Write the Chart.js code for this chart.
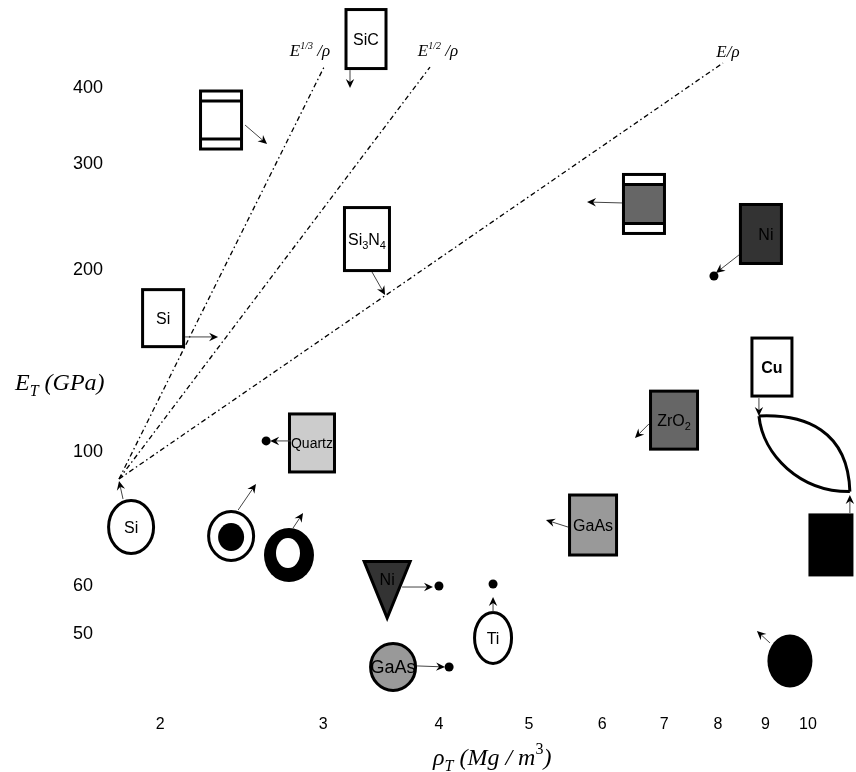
<!DOCTYPE html>
<html>
<head>
<meta charset="utf-8">
<title>E vs rho</title>
<script src="https://cdn.jsdelivr.net/npm/chart.js@4.4.0/dist/chart.umd.min.js"></script>
<style>
  html, body { margin: 0; padding: 0; background: #fff; }
  canvas { display: block; }
</style>
</head>
<body>
<canvas id="myChart" width="856" height="772"></canvas>
<script>
// tick labels
const xTicks = [2, 3, 4, 5, 6, 7, 8, 9, 10];
const yTicks = [50, 60, 100, 200, 300, 400];

// material markers: density rho (Mg/m3) and modulus E (GPa)
const matLabels = ['SiC', '', 'Si', 'Si_3N_4', '', 'Ni', 'Cu', '', 'ZrO_2', 'GaAs', 'Quartz', '', '', 'Si', 'Ni', 'Ti', 'GaAs', ''];
const matRho = [3.336, 2.327, 2.015, 3.344, 6.655, 8.899, 9.146, 10.59, 7.171, 5.864, 2.917, 2.386, 2.755, 1.861, 3.516, 4.574, 3.568, 9.564];
const matE = [482.0, 354.1, 166.5, 225.0, 257.2, 229.4, 138.2, 70.19, 112.9, 75.72, 103.5, 72.61, 67.53, 75.14, 59.12, 49.25, 44.10, 45.12];

// one arrow per marker
const arrowFromRho = [3.206, 2.470, 2.128, 3.386, 6.301, 8.426, 8.855, 11.10, 6.738, 5.510, 2.769, 2.428, 2.783, 1.824, 3.649, 4.574, 3.787, 9.101];
const arrowFromE = [428.3, 347.4, 155.0, 198.5, 258.2, 211.8, 122.8, 79.26, 111.3, 75.14, 104.3, 80.17, 74.86, 83.61, 59.79, 54.37, 44.27, 48.32];
const arrowToRho = [3.206, 2.609, 2.310, 3.498, 5.777, 7.958, 8.855, 11.10, 6.508, 5.217, 2.629, 2.538, 2.853, 1.806, 3.940, 4.574, 4.060, 8.811];
const arrowToE = [400.0, 323.2, 155.0, 181.8, 259.1, 197.8, 114.7, 84.89, 105.5, 77.17, 104.3, 88.53, 79.26, 89.55, 59.79, 57.56, 44.10, 50.58];

// end points of the arrows that carry a dot
const dotRho = [7.919, 2.603, 3.999, 4.574, 4.101];
const dotE = [195.5, 104.3, 60.02, 60.48, 44.10];

// guide lines E^(1/3)/rho, E^(1/2)/rho, E/rho
const guideStartRho = [1.806, 1.806, 1.806];
const guideStartE = [90.24, 90.24, 90.24];
const guideEndRho = [3.013, 3.911, 8.098];
const guideEndE = [436.6, 433.3, 440.0];

// lens between Cu and the black block (bezier points)
const lensUpperRho = [8.855, 9.927, 11.05, 11.10];
const lensUpperE = [114.7, 115.6, 108.7, 86.0];
const lensLowerRho = [8.855, 8.943, 9.805, 11.10];
const lensLowerE = [114.7, 98.86, 85.87, 86.0];

// drawing styles for each marker (same order as matLabels)
const matStyle = [
  {shape: 'box', w: 43, h: 62, fill: '#fff'},
  {shape: 'band', w: 44, h: 61, fill: '#fff'},
  {shape: 'box', w: 44, h: 60, fill: '#fff'},
  {shape: 'box', w: 48, h: 66, fill: '#fff'},
  {shape: 'band', w: 44, h: 62, fill: '#666'},
  {shape: 'box', w: 44, h: 62, fill: '#333', dx: 5},
  {shape: 'box', w: 43, h: 61, fill: '#fff', bold: true},
  {shape: 'box', w: 45, h: 63, fill: '#000'},
  {shape: 'box', w: 50, h: 61, fill: '#666'},
  {shape: 'box', w: 50, h: 63, fill: '#999'},
  {shape: 'box', w: 48, h: 61, fill: '#ccc', size: 14},
  {shape: 'ring', w: 48, h: 52},
  {shape: 'donut', w: 50, h: 54},
  {shape: 'ellipse', w: 48, h: 56, fill: '#fff'},
  {shape: 'tri', w: 50, h: 60, fill: '#333', dy: -11},
  {shape: 'ellipse', w: 40, h: 54, fill: '#fff'},
  {shape: 'ellipse', w: 48, h: 50, fill: '#999', size: 18},
  {shape: 'ellipse', w: 48, h: 56, fill: '#000', noStroke: true}
];

const SANS = '"Liberation Sans", Arial, sans-serif';
const SERIF = '"Liberation Serif", "Times New Roman", serif';

const drawRich = (ctx, x, y, parts, align) => {
  let w = 0;
  parts.forEach(p => { ctx.font = p[1]; w += ctx.measureText(p[0]).width; });
  let cx = align === 'center' ? x - w / 2 : x;
  ctx.textAlign = 'left';
  parts.forEach(p => {
    ctx.font = p[1];
    ctx.fillText(p[0], cx, y + (p[2] || 0));
    cx += ctx.measureText(p[0]).width;
  });
};

const labelParts = (txt, size, bold) => {
  const main = (bold ? 'bold ' : '') + size + 'px ' + SANS;
  const sub = Math.round(size * 0.68) + 'px ' + SANS;
  const parts = [];
  let buf = '';
  for (let i = 0; i < txt.length; i++) {
    if (txt[i] === '_') {
      if (buf) parts.push([buf, main, 0]);
      buf = '';
      parts.push([txt[i + 1], sub, size * 0.25]);
      i++;
    } else {
      buf += txt[i];
    }
  }
  if (buf) parts.push([buf, main, 0]);
  return parts;
};

const ellipse = (ctx, x, y, rx, ry) => {
  ctx.beginPath();
  ctx.ellipse(x, y, rx, ry, 0, 0, Math.PI * 2);
};

const arrow = (ctx, x0, y0, x1, y1) => {
  const len = Math.hypot(x1 - x0, y1 - y0);
  const ux = (x1 - x0) / len, uy = (y1 - y0) / len;
  const nx = -uy, ny = ux;
  const L = 9, W = 4.2, N = 6;
  ctx.strokeStyle = '#444';
  ctx.lineWidth = 1;
  ctx.beginPath();
  ctx.moveTo(x0, y0);
  ctx.lineTo(x1 - ux * N, y1 - uy * N);
  ctx.stroke();
  ctx.fillStyle = '#000';
  ctx.beginPath();
  ctx.moveTo(x1, y1);
  ctx.lineTo(x1 - ux * L + nx * W, y1 - uy * L + ny * W);
  ctx.lineTo(x1 - ux * N, y1 - uy * N);
  ctx.lineTo(x1 - ux * L - nx * W, y1 - uy * L - ny * W);
  ctx.closePath();
  ctx.fill();
};

const markerPlugin = {
  id: 'markers',
  afterDatasetsDraw(chart) {
    const ctx = chart.ctx;
    const sx = chart.scales.x, sy = chart.scales.y;
    ctx.save();

    // lens
    const up = lensUpperRho.map((r, i) => [sx.getPixelForValue(r), sy.getPixelForValue(lensUpperE[i])]);
    const lo = lensLowerRho.map((r, i) => [sx.getPixelForValue(r), sy.getPixelForValue(lensLowerE[i])]);
    ctx.strokeStyle = '#000';
    ctx.lineWidth = 3;
    ctx.beginPath();
    ctx.moveTo(up[0][0], up[0][1]);
    ctx.bezierCurveTo(up[1][0], up[1][1], up[2][0], up[2][1], up[3][0], up[3][1]);
    ctx.moveTo(lo[0][0], lo[0][1]);
    ctx.bezierCurveTo(lo[1][0], lo[1][1], lo[2][0], lo[2][1], lo[3][0], lo[3][1]);
    ctx.stroke();

    matRho.forEach((r, i) => {
      const st = matStyle[i];
      const x = sx.getPixelForValue(r), y = sy.getPixelForValue(matE[i]);
      const w = st.w, h = st.h;
      ctx.lineWidth = 3;
      ctx.strokeStyle = '#000';
      if (st.shape === 'box' || st.shape === 'band') {
        const l = x - w / 2 + 1.5, t = y - h / 2 + 1.5, ww = w - 3, hh = h - 3;
        ctx.fillStyle = st.shape === 'band' ? '#fff' : st.fill;
        ctx.fillRect(l, t, ww, hh);
        if (st.shape === 'band') {
          ctx.fillStyle = st.fill;
          ctx.fillRect(l, t + 10, ww, hh - 20);
          ctx.beginPath();
          ctx.moveTo(l, t + 10); ctx.lineTo(l + ww, t + 10);
          ctx.moveTo(l, t + hh - 10); ctx.lineTo(l + ww, t + hh - 10);
          ctx.stroke();
        }
        ctx.strokeRect(l, t, ww, hh);
      } else if (st.shape === 'ellipse') {
        ellipse(ctx, x, y, w / 2 - 1.5, h / 2 - 1.5);
        ctx.fillStyle = st.fill;
        ctx.fill();
        if (!st.noStroke) ctx.stroke();
      } else if (st.shape === 'ring') {
        ellipse(ctx, x, y, w / 2 - 1.5, h / 2 - 1.5);
        ctx.fillStyle = '#fff';
        ctx.fill();
        ctx.stroke();
        ellipse(ctx, x, y + 1, 13, 14);
        ctx.fillStyle = '#000';
        ctx.fill();
      } else if (st.shape === 'donut') {
        ellipse(ctx, x, y, w / 2, h / 2);
        ctx.fillStyle = '#000';
        ctx.fill();
        ellipse(ctx, x - 1, y - 2, 12, 15);
        ctx.fillStyle = '#fff';
        ctx.fill();
      } else if (st.shape === 'tri') {
        ctx.beginPath();
        ctx.moveTo(x - w / 2 + 2, y - h / 2 + 1.5);
        ctx.lineTo(x + w / 2 - 2, y - h / 2 + 1.5);
        ctx.lineTo(x, y + h / 2 - 2);
        ctx.closePath();
        ctx.fillStyle = st.fill;
        ctx.fill();
        ctx.lineJoin = 'miter';
        ctx.stroke();
      }
      if (matLabels[i]) {
        const size = st.size || 16;
        ctx.fillStyle = '#000';
        ctx.textBaseline = 'alphabetic';
        drawRich(ctx, x + (st.dx || 0), y + (st.dy || 0) + size * 0.36, labelParts(matLabels[i], size, st.bold), 'center');
      }
    });

    arrowFromRho.forEach((r, i) => {
      arrow(ctx,
        sx.getPixelForValue(r), sy.getPixelForValue(arrowFromE[i]),
        sx.getPixelForValue(arrowToRho[i]), sy.getPixelForValue(arrowToE[i]));
    });

    // guide line labels
    const it = 'italic 17px ' + SERIF, sup = 'italic 10px ' + SERIF;
    const gl = [
      [[['E', it, 0], ['1/3', sup, -7], [' /\u03c1', it, 0]], -15, -9],
      [[['E', it, 0], ['1/2', sup, -7], [' /\u03c1', it, 0]], 8, -11],
      [[['E/\u03c1', it, 0]], 5, -6]
    ];
    ctx.fillStyle = '#000';
    gl.forEach((g, i) => {
      const x = sx.getPixelForValue(guideEndRho[i]), y = sy.getPixelForValue(guideEndE[i]);
      drawRich(ctx, x + g[1], y + g[2], g[0], 'center');
    });

    // axis titles
    const big = 'italic 24px ' + SERIF, small = 'italic 16px ' + SERIF;
    drawRich(ctx, 15, 390, [['E', big, 0], ['T', small, 6], [' (GPa)', big, 0]], 'left');
    drawRich(ctx, 433, 765, [['\u03c1', big, 0], ['T', small, 6], [' (Mg / m', big, 0], ['3', '16px ' + SERIF, -11], [')', big, 0]], 'left');
    ctx.restore();
  }
};

const guideSets = guideStartRho.map((r, i) => ({
  data: [{x: r, y: guideStartE[i]}, {x: guideEndRho[i], y: guideEndE[i]}],
  showLine: true,
  borderColor: '#000',
  borderWidth: 1.3,
  borderDash: [5, 3, 1.5, 3],
  pointRadius: 0,
  clip: false
}));

new Chart(document.getElementById('myChart').getContext('2d'), {
  type: 'scatter',
  data: {
    datasets: guideSets.concat([{
      data: dotRho.map((r, i) => ({x: r, y: dotE[i]})),
      showLine: false,
      pointRadius: 4.5,
      pointBackgroundColor: '#000',
      pointBorderWidth: 0,
      clip: false
    }])
  },
  options: {
    responsive: false,
    animation: false,
    devicePixelRatio: 1,
    layout: {autoPadding: false, padding: {left: 73, right: 0, top: 0, bottom: 7}},
    plugins: {legend: {display: false}, tooltip: {enabled: false}},
    scales: {
      x: {
        type: 'logarithmic',
        min: 1.766,
        max: 11.27,
        grid: {display: false, drawTicks: false},
        border: {display: false},
        afterBuildTicks: s => { s.ticks = xTicks.map(v => ({value: v})); },
        afterFit: s => { s.height = 60; s.paddingLeft = 0; s.paddingRight = 0; },
        ticks: {
          autoSkip: false,
          maxRotation: 0,
          padding: 10,
          color: '#000',
          font: {family: SANS, size: 16},
          callback: v => String(v)
        }
      },
      y: {
        type: 'logarithmic',
        min: 38.15,
        max: 559.3,
        grid: {display: false, drawTicks: false},
        border: {display: false},
        afterBuildTicks: s => { s.ticks = yTicks.map(v => ({value: v})); },
        afterFit: s => { s.width = 37; s.paddingTop = 0; s.paddingBottom = 0; },
        ticks: {
          autoSkip: false,
          crossAlign: 'far',
          color: '#000',
          font: {family: SANS, size: 18},
          callback: v => String(v)
        }
      }
    }
  },
  plugins: [markerPlugin]
});
</script>
</body>
</html>
